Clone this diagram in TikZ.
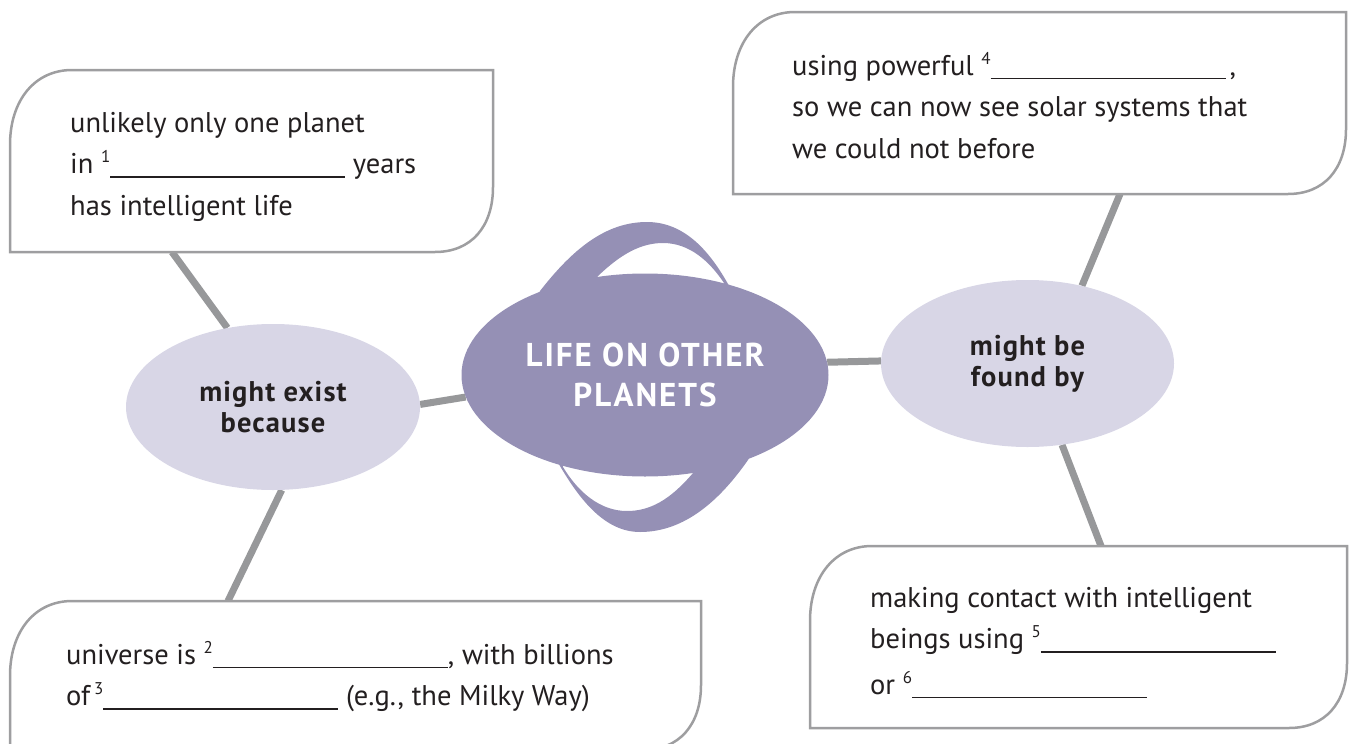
\documentclass[tikz,border=0pt]{standalone}
\usepackage{fontspec}
\setmainfont{PT Sans}
\usetikzlibrary{shapes.geometric}
\definecolor{planetfill}{RGB}{149,144,181}
\definecolor{bubblefill}{RGB}{216,214,230}
\definecolor{linkgray}{RGB}{151,152,154}
\definecolor{framegray}{RGB}{158,158,160}
\definecolor{inkgray}{RGB}{35,31,32}
\pgfdeclarelayer{links}
\pgfsetlayers{links,main}
% numbered gap to fill in
\newcommand\blankno[1]{\raisebox{11pt}{\fontsize{17}{17}\selectfont #1}\rule[-4pt]{235pt}{1.5pt}}
% speech box: top-left and bottom-right corners rounded
\newcommand\speechbox[4]{%
  \draw[framebox] (#1,#4) -- (#1,#2+75) .. controls (#1,#2+30) and (#1+25,#2) .. (#1+62,#2)
    -- (#3,#2) -- (#3,#4-65) .. controls (#3,#4-25) and (#3-22,#4) .. (#3-58,#4) -- cycle;}
\tikzset{
  x=1pt, y=-1pt,
  framebox/.style={draw=framegray, line width=2.5pt, fill=white},
  link/.style={draw=linkgray, line width=7pt},
  boxtext/.style={anchor=base west, inner sep=0pt, text=inkgray,
    font=\fontsize{28.5}{41.5}\selectfont},
  bubble/.style={ellipse, fill=bubblefill, inner sep=0pt, minimum width=294pt,
    minimum height=166pt, align=center, text=inkgray,
    font=\bfseries\fontsize{28.5}{31}\selectfont\addfontfeature{LetterSpace=4}},
  planet/.style={ellipse, fill=planetfill, inner sep=0pt, minimum width=367pt,
    minimum height=203pt, align=center, text=white,
    font=\bfseries\fontsize{33}{40}\selectfont\addfontfeature{LetterSpace=6}},
}
\begin{document}
\begin{tikzpicture}
\useasboundingbox (0,0) rectangle (1349,744);

% text boxes
\speechbox{10}{70}{493}{252}
\speechbox{733}{12}{1346}{194}
\speechbox{10}{601}{701}{750}
\speechbox{810}{546}{1347}{728}

\node[boxtext] (why1) at (70,132) {\parbox[t]{600pt}{\raggedright
  unlikely only one planet\\
  in \blankno{1} years\\
  has intelligent life}};
\node[boxtext] (how1) at (792,75) {\parbox[t]{600pt}{\raggedright
  using powerful \blankno{4}\hspace{4pt},\\
  so we can now see solar systems that\\
  we could not before}};
\node[boxtext] (why2) at (66,664) {\parbox[t]{700pt}{\raggedright
  universe is \blankno{2}, with billions\\
  of\hspace{4pt}\blankno{3} (e.g., the Milky Way)}};
\node[boxtext] (how2) at (870,607) {\parbox[t]{600pt}{\raggedright
  making contact with intelligent\\
  beings using \blankno{5}\\[4pt]
  or \blankno{6}}};

% attachment points on the boxes
\coordinate (why1foot) at (172,252);
\coordinate (how1foot) at (1120,194);
\coordinate (why2top) at (228,601);
\coordinate (how2top) at (1101,546);

% planet ring (behind the planet)
\fill[planetfill, even odd rule]
  (540,291) .. controls (572,250) and (605,222) .. (647,222)
  .. controls (685,222) and (710,252) .. (728,284)
  .. controls (760,340) and (770,420) .. (748,460)
  .. controls (720,500) and (685,532) .. (640,532)
  .. controls (605,532) and (580,500) .. (560,466)
  .. controls (530,420) and (520,340) .. (540,291) -- cycle
  (598,276) .. controls (620,255) and (640,243) .. (663,243)
  .. controls (690,243) and (710,262) .. (724,283)
  .. controls (740,340) and (730,430) .. (693,473)
  .. controls (670,500) and (650,511) .. (627,511)
  .. controls (600,511) and (578,492) .. (563,467)
  .. controls (560,400) and (570,320) .. (598,276) -- cycle;

% topic nodes
\node[planet] (life) at (645,375) {LIFE ON OTHER\\PLANETS};
\node[bubble] (exist) at (273,407) {might exist\\because};
\node[bubble, minimum width=293pt, minimum height=167pt] (found) at (1027.5,363.5) {might be\\found by};

% connectors
\begin{pgfonlayer}{links}
  \draw[link] (exist.120) -- (why1foot);
  \draw[link] (exist.276) -- (why2top);
  \draw[link] (exist.1) -- (life.187);
  \draw[link] (life.4) -- (found.179);
  \draw[link] (found.55) -- (how1foot);
  \draw[link] (found.293) -- (how2top);
\end{pgfonlayer}
\end{tikzpicture}
\end{document}
